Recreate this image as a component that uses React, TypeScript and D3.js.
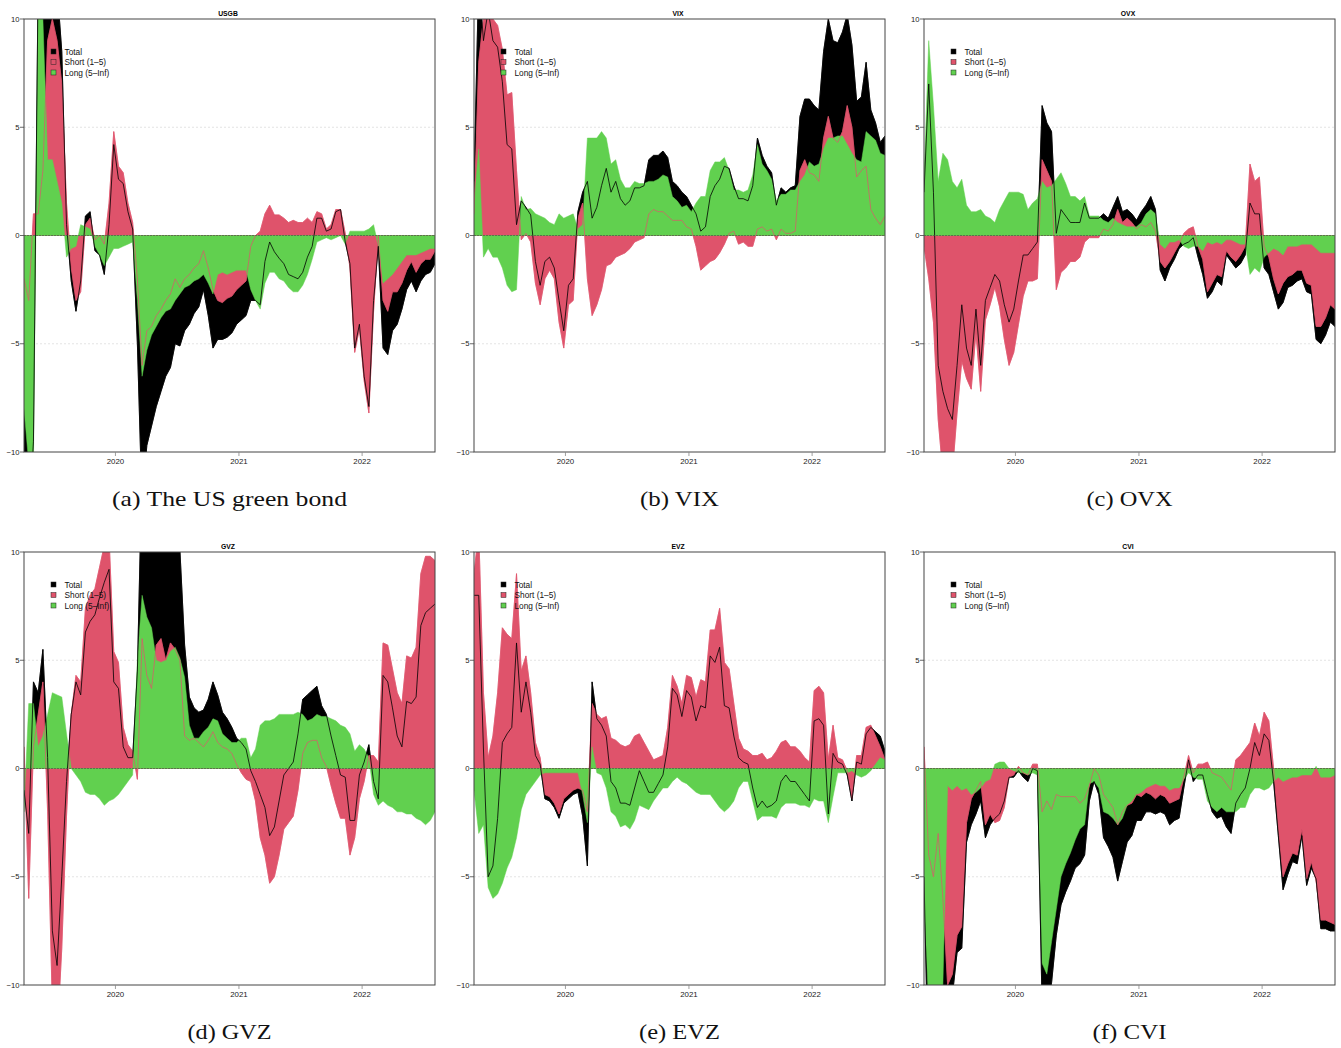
import React from "react";
import * as d3 from "d3";

// Sampling grid: fortnightly observations of the rolling net spillover indices
const START = new Date(2019, 3, 5);
const STEP_DAYS = 14;
const N_OBS = 88;
const DATES: Date[] = d3.range(N_OBS).map((i) => d3.timeDay.offset(START, i * STEP_DAYS));

const Y_TICKS = [-10, -5, 0, 5, 10];
const X_TICKS = [new Date(2020, 0, 1), new Date(2021, 0, 1), new Date(2022, 0, 1)];
const X_TICK_LABELS = ["2020", "2021", "2022"];
const LEGEND_LABELS = ["Total", "Short (1\u20135)", "Long (5\u2013Inf)"];
const COLORS = ["#000000", "#DF536B", "#61D04F"];

// Net spillovers, short-term band (1–5 days)
const USGB_SHORT = [
  -2, -3, 1, 1, 3, 9, 10, 9, 7, 1.5,
  -1.5, -3, -2.6, 0.5, 0.8, -0.2, 0, -0.4, 1.5, 4.8,
  3.2, 2.9, 1.5, 0.6, -2, -6, -4.4, -4.2, -3.7, -3.4,
  -3.0, -2.7, -2.0, -2.4, -2.0, -1.8, -1.5, -1.3, -0.7, -1.5,
  -2.5, -3.0, -3.1, -2.9, -2.8, -2.5, -2.3, -2.1, -0.5, 0,
  0.2, 1.0, 1.4, 0.95, 0.95, 0.8, 0.6, 0.7, 0.6, 0.6,
  0.8, 0.6, 1.1, 1.0, 0.3, 0.5, 1.2, 1.2, 0.1, -1.5,
  -5.4, -4.3, -6.7, -8.2, -3.5, 0, -3, -3.5, -2.6, -2.6,
  -2.2, -1.6, -1.2, -1.7, -1.3, -1.1, -1.1, -0.7,
];
// Net spillovers, long-term band (5 days – Inf)
const USGB_LONG = [
  -8, -10.5, -10.5, 11, 10, 3.5, 3.5, 2.5, 1.5, -1,
  -0.6, -0.5, 0.5, 0.4, 0.3, -0.5, -0.9, -1.4, -1.0, -0.6,
  -0.6, -0.5, -0.4, -0.3, -3, -6.5, -5.3, -4.6, -4.2, -3.8,
  -3.5, -3.4, -3.0, -2.7, -2.4, -2.3, -2.1, -2.0, -1.8, -2.2,
  -2.7, -1.8, -1.7, -1.8, -1.7, -1.6, -1.6, -1.6, -2.5, -3,
  -3.4, -2.2, -1.7, -1.7, -2.0, -2.1, -2.4, -2.6, -2.6, -2.3,
  -1.8, -1.1, -0.3, -0.2, -0.1, -0.2, -0.1, 0, -0.4, 0.2,
  0.2, 0.2, 0.2, 0.3, 0.5, -0.5, -2.2, -2.0, -1.8, -1.5,
  -1.2, -0.9, -0.9, -0.9, -0.8, -0.7, -0.6, -0.6,
];

const VIX_SHORT = [
  1, 8, 10, 11, 10, 9.7, 8.6, 6.5, 6.6, 3,
  -0.2, 0.1, -0.3, -2.2, -3.2, -2.0, -1.6, -2.0, -4, -5.2,
  -3.2, -3, 0.8, 1.5, -2, -3.7, -3.2, -2.5, -1.4, -1.3,
  -1.0, -0.9, -0.8, -0.6, -0.3, -0.2, -0.1, 1.0, 1.2, 1.1,
  1.1, 0.9, 0.7, 0.7, 0.7, 0.4, 0.3, -0.5, -1.6, -1.4,
  -1.2, -1.1, -0.8, -0.4, 0.1, 0.2, -0.4, -0.3, -0.5, -0.5,
  0.3, 0.4, 0.2, 0.3, -0.2, 0.3, 0.1, 0.1, 0.2, 3,
  3.5, 2.9, 2.8, 2.5, 4.5, 5.5, 4.5, 4.3, 4.8, 6,
  5, 2.7, 3.0, 3.2, 1.2, 0.8, 0.5, 0.9,
];
const VIX_LONG = [
  1.5, 4, -1, -0.6, -1, -1, -1.5, -2.3, -2.6, -2.5,
  1.8, 1.2, 1.25, 1.0, 0.9, 0.8, 0.6, 0.5, 1, 0.8,
  0.9, 1, 0.3, 0.5, 4.5, 4.5, 4.5, 4.8, 4.5, 3.3,
  3.5, 2.6, 2.2, 2.2, 2.5, 2.4, 2.4, 2.5, 2.5, 2.6,
  2.8, 2.7, 1.8, 1.6, 1.3, 1.4, 1.1, 1.5, 1.8, 1.8,
  3.0, 3.4, 3.4, 3.6, 3.0, 2.1, 2.1, 2.0, 2.1, 2.8,
  4.2, 3.3, 3.0, 2.6, 1.6, 1.9, 1.9, 2.1, 2.1, 2.5,
  2.8, 3.4, 3.2, 3.3, 4, 4.5, 4.5, 4.6, 4.6, 4.2,
  3.8, 3.5, 3.4, 4.8, 4.6, 4.4, 3.8, 3.7,
];

const OVX_SHORT = [
  -0.5, -2, -4, -8.5, -11, -11.5, -11, -8.2, -5.8, -6.6,
  -7.1, -4.5, -7.2, -3.9, -3.2, -2.4, -3.3, -4.8, -6.0, -5.4,
  -4.1, -2.8, -2.1, -2.1, -2, 3.5, 3, 2.5, -2.5, -1.7,
  -1.5, -1.2, -1.2, -1.0, -0.3, -0.1, -0.1, -0.1, 0.3, 0.2,
  0.5, 1.2, 0.6, 0.8, 0.6, 0.3, 0.5, 0.4, 0.6, 0.2,
  -1.2, -1.5, -1.2, -0.8, -0.4, 0.1, 0.3, 0.4, -0.5, -1.1,
  -2.6, -2.2, -1.8, -1.9, -0.7, -1.0, -1.2, -0.9, -0.5, 3.3,
  2.5, 2.7, -0.5, -1.0, -2.0, -2.7, -2.2, -1.9, -1.8, -1.6,
  -1.6, -2.2, -2.3, -4.2, -4.2, -3.8, -3.2, -3.4,
];
const OVX_LONG = [
  2.5, 9, 6, 2.5, 3.8, 3.5, 2.5, 2.2, 2.6, 1.4,
  1.1, 1.1, 1.2, 0.9, 0.8, 0.6, 1.2, 1.6, 2.0, 2.0,
  2.0, 1.9, 1.2, 1.5, 1.7, 2.5, 2.2, 2.3, 2.6, 2.9,
  2.4, 1.8, 1.8, 1.6, 1.8, 0.9, 0.9, 0.9, 0.7, 0.6,
  0.8, 0.6, 0.5, 0.4, 0.4, 0.4, 0.6, 1.0, 1.2, 1.0,
  -0.4, -0.6, -0.3, -0.3, -0.2, -0.5, -0.6, -0.5, -0.5, -0.7,
  -0.3, -0.4, -0.3, -0.4, -0.2, -0.2, -0.3, -0.4, -0.4, -1.8,
  -1.5, -1.7, -1.0, -0.8, -0.6, -0.7, -0.9, -0.5, -0.5, -0.5,
  -0.4, -0.4, -0.4, -0.6, -0.8, -0.8, -0.8, -0.8,
];

const GVZ_SHORT = [
  1, -6, 1, 2.5, 4, -2, -11, -12.5, -8.3, -2.2,
  2.5, 4.3, 4.0, 7.4, 8.0, 8.3, 9.3, 10.3, 10.7, 5.4,
  4.9, 1.9, 1.1, 0.8, -0.5, 6, 4.3, 3.7, 5.7, 6.0,
  5.0, 5.8, 5.5, 5.0, 1.5, 1.3, 1.4, 1.2, 1.0, 1.3,
  1.7, 1.2, 1.0, 0.9, 0.7, 0.2, -0.2, -0.5, -0.6, -1.5,
  -3.2, -4.0, -5.3, -5.0, -4.0, -2.8, -2.5, -2.2, -1, 0.7,
  1.2, 1.3, 1.3, 0.5, 0.1, -0.8, -1.6, -2.3, -2.3, -4.0,
  -3.2, -1.4, -0.6, 0.6, 0.6, 0.3, 5.8, 5.7, 4.6, 3.5,
  3.0, 5.2, 5.1, 5.6, 9.0, 9.8, 9.8, 9.6,
];
const GVZ_LONG = [
  -2, 3, 3, 1, 1.5, 2.5, 3.5, 3.4, 3.3, 1.6,
  0, -0.3, -0.6, -1.1, -1.2, -1.2, -1.4, -1.7, -1.5, -1.4,
  -1.2, -0.9, -0.6, -0.3, 5, 8, 7, 6.5, 5.0, 4.9,
  5.0, 5.4, 5.6, 5.1, 4.2, 2.0, 1.4, 1.4, 1.7, 1.9,
  2.3, 2.2, 1.6, 1.4, 1.2, 1.2, 1.4, 1.4, 0.5, 0.9,
  2.0, 2.2, 2.2, 2.3, 2.5, 2.5, 2.5, 2.5, 2.6, 2.5,
  2.2, 2.3, 2.5, 2.4, 2.4, 2.3, 2.2, 2.0, 1.9, 1.6,
  0.8, 1.1, 0.9, 0.5, -1.2, -1.7, -1.5, -1.7, -1.8, -2.0,
  -2.0, -2.1, -2.1, -2.3, -2.4, -2.6, -2.4, -2.0,
];

const EVZ_SHORT = [
  9, 11, 3.5, 0.5, 1.5, 3.5, 6.5, 6.2, 6.0, 9.0,
  4.5, 5.2, 3.5, 1.2, 0.5, -1.2, -1.3, -1.6, -2.1, -1.4,
  -1.2, -1.0, -0.9, -1.0, -2, 3.0, 2.5, 2.3, 2.4, 1.4,
  1.3, 1.1, 1.0, 1.1, 1.5, 1.6, 1.2, 0.8, 0.4, 0.5,
  0.6, 1.9, 4.3, 3.8, 3.0, 4.3, 4.2, 3.3, 4.1, 4.0,
  6.4, 6.4, 7.4, 4.9, 4.6, 3.0, 1.4, 0.9, 0.8, 0.6,
  0.6, 0.7, 0.4, 0.5, 0.8, 1.2, 1.3, 1.0, 1.0, 0.8,
  0.5, 0.3, 3.6, 3.8, 3.5, 0.4, 2.0, 0.5, 0.4, -0.1,
  -1.4, 0.6, 0.6, 1.9, 2.0, 1.5, 1.0, 0.4,
];
const EVZ_LONG = [
  -1, -3, -2.6, -5.5, -6, -5.8, -5.3, -4.6, -4.1, -3.2,
  -1.9, -1.2, -0.9, -0.6, -0.3, -0.2, -0.2, -0.2, -0.2, -0.2,
  -0.2, -0.2, -0.2, -1.2, -2.5, 1.0, -0.2, -0.3, -0.9, -2.0,
  -2.2, -2.7, -2.6, -2.8, -2.4, -1.7, -1.8, -1.9, -1.5, -1.2,
  -0.9, -0.9, -0.6, -0.4, -0.6, -0.7, -0.9, -1.1, -1.2, -1.2,
  -1.2, -1.5, -1.8, -2.0, -1.8, -1.5, -0.9, -0.6, -0.6, -1.5,
  -2.4, -2.2, -2.2, -2.2, -2.3, -1.8, -1.6, -1.6, -1.6, -1.7,
  -1.7, -1.8, -1.4, -1.5, -1.5, -2.5, -1.3, -0.2, -0.2, -0.2,
  -0.1, -0.3, -0.4, -0.3, -0.1, 0.2, 0.5, 0.4,
];

const CVI_SHORT = [
  1, -4, -5, -3, -6, -10, -9.5, -7.7, -7.3, -2.5,
  -1.4, -1.0, -0.6, -2.6, -2.1, -2.5, -2.4, -1.8, -0.4, -0.3,
  0.1, -0.2, -0.3, 0.2, 0.2, -2.0, -1.5, -1.9, -1.2, -1.3,
  -1.3, -1.3, -1.3, -1.6, -1.4, -0.8, 0, -0.3, -1.2, -1.5,
  -1.8, -2.6, -2.0, -1.7, -1.6, -1.2, -1.3, -1.1, -1.2, -1.4,
  -1.2, -1.3, -1.6, -1.5, -1.4, -0.4, 0.6, -0.2, 0.2, 0.2,
  0.3, -0.2, -0.3, -0.4, -0.7, -1.0, 0.4, 0.6, 0.9, 1.2,
  2.1, 1.5, 2.6, 2.2, 0, -2.7, -5.0, -4.4, -3.9, -4.0,
  -2.8, -5.1, -4.3, -5.2, -7.0, -7.0, -7.1, -7.2,
];
const CVI_LONG = [
  -6, -11, -11, -10.5, -10, -0.8, -1, -0.8, -1, -0.9,
  -1.2, -1.1, -0.9, -0.6, -0.5, 0.2, 0.3, 0.3, 0, -0.1,
  -0.2, -0.2, -0.3, -0.2, -0.3, -9, -9.5, -8, -6.5, -5.0,
  -4.4, -3.9, -3.3, -2.8, -2.6, -0.7, -0.6, -0.9, -2, -2.1,
  -2.3, -2.6, -2.3, -1.7, -1.5, -1.2, -1.1, -0.9, -0.8, -0.7,
  -0.8, -0.8, -1.0, -0.9, -0.9, -0.5, -0.2, -0.4, -0.5, -0.5,
  -1.5, -1.8, -2.0, -1.8, -2.0, -2.0, -2.0, -1.8, -1.8, -1.2,
  -0.9, -0.9, -1.0, -0.9, -0.6, -0.4, -0.6, -0.5, -0.4, -0.4,
  -0.3, -0.3, -0.3, 0.1, -0.4, -0.4, -0.4, -0.3,
];

const TITLES = ["USGB", "VIX", "OVX", "GVZ", "EVZ", "CVI"];
const CAPTIONS = ["(a) The US green bond", "(b) VIX", "(c) OVX", "(d) GVZ", "(e) EVZ", "(f) CVI"];
const CAPTION_WIDTHS = [235, 79, 86, 84, 81, 74];
const SHORT_SERIES = [USGB_SHORT, VIX_SHORT, OVX_SHORT, GVZ_SHORT, EVZ_SHORT, CVI_SHORT];
const LONG_SERIES = [USGB_LONG, VIX_LONG, OVX_LONG, GVZ_LONG, EVZ_LONG, CVI_LONG];

// Layout
const WIDTH = 1341;
const HEIGHT = 1048;
const PLOT_W = 411;
const PLOT_H = 433;
const LEFTS = [24, 474, 924];
const TOPS = [19, 552];
const SANS = "'Liberation Sans', Arial, Helvetica, sans-serif";
const SERIF = "'Liberation Serif', 'DejaVu Serif', serif";

function Panel({ idx }: { idx: number }) {
  const left = LEFTS[idx % 3];
  const top = TOPS[Math.floor(idx / 3)];
  const short = SHORT_SERIES[idx];
  const long = LONG_SERIES[idx];
  const total = short.map((s, i) => s + long[i]);

  const x = d3.scaleTime().domain([DATES[0], DATES[N_OBS - 1]]).range([left, left + PLOT_W]);
  const y = d3.scaleLinear().domain([-10, 10]).range([top + PLOT_H, top]);

  const area = d3
    .area<number>()
    .x((_, i) => x(DATES[i]))
    .y0(y(0))
    .y1((v) => y(v));
  const line = d3
    .line<number>()
    .x((_, i) => x(DATES[i]))
    .y((v) => y(v));

  const clipId = `plot-clip-${idx}`;
  const bottom = top + PLOT_H;
  const cx = left + PLOT_W / 2;

  return (
    <g>
      <defs>
        <clipPath id={clipId}>
          <rect x={left} y={top} width={PLOT_W} height={PLOT_H} />
        </clipPath>
      </defs>

      {/* horizontal reference grid */}
      {Y_TICKS.filter((t) => Math.abs(t) !== 10 && t !== 0).map((t) => (
        <line
          key={`g${t}`}
          x1={left}
          x2={left + PLOT_W}
          y1={y(t)}
          y2={y(t)}
          stroke="#d8d8d8"
          strokeWidth={0.7}
          strokeDasharray="2,2"
        />
      ))}

      <g clipPath={`url(#${clipId})`}>
        <path d={area(total) || ""} fill={COLORS[0]} stroke={COLORS[0]} strokeWidth={0.6} />
        <path d={area(short) || ""} fill={COLORS[1]} stroke={COLORS[1]} strokeWidth={0.5} />
        <path d={area(long) || ""} fill={COLORS[2]} stroke={COLORS[2]} strokeWidth={0.5} />
        <path d={line(short) || ""} fill="none" stroke={COLORS[1]} strokeWidth={0.7} />
        <path d={line(total) || ""} fill="none" stroke={COLORS[0]} strokeWidth={0.8} />
        <line
          x1={left}
          x2={left + PLOT_W}
          y1={y(0)}
          y2={y(0)}
          stroke="#4a4a4a"
          strokeOpacity={0.75}
          strokeWidth={0.8}
          strokeDasharray="2,1"
        />
      </g>

      {/* frame */}
      <rect x={left} y={top} width={PLOT_W} height={PLOT_H} fill="none" stroke="#444" strokeWidth={1} />

      {/* y axis */}
      {Y_TICKS.map((t) => (
        <g key={`y${t}`}>
          <line x1={left - 4} x2={left} y1={y(t)} y2={y(t)} stroke="#444" strokeWidth={0.8} />
          <text
            x={left - 4.5}
            y={y(t) + 2.7}
            textAnchor="end"
            fontFamily={SANS}
            fontSize={7.7}
            fill="#222"
          >
            {t < 0 ? `\u2212${Math.abs(t)}` : `${t}`}
          </text>
        </g>
      ))}

      {/* x axis */}
      {X_TICKS.map((d, i) => (
        <g key={`x${i}`}>
          <line x1={x(d)} x2={x(d)} y1={bottom} y2={bottom + 4} stroke="#888" strokeWidth={0.8} />
          <text
            x={x(d)}
            y={bottom + 11.5}
            textAnchor="middle"
            fontFamily={SANS}
            fontSize={7.9}
            fill="#222"
          >
            {X_TICK_LABELS[i]}
          </text>
        </g>
      ))}

      {/* title */}
      <text
        x={cx - 1.5}
        y={top - 3.4}
        textAnchor="middle"
        fontFamily={SANS}
        fontWeight="bold"
        fontSize={6.8}
        fill="#000"
      >
        {TITLES[idx]}
      </text>

      {/* legend */}
      {LEGEND_LABELS.map((lab, i) => (
        <g key={lab}>
          <rect
            x={left + 27}
            y={top + 30 + i * 10.5}
            width={5}
            height={5}
            fill={COLORS[i]}
            stroke="#222"
            strokeWidth={0.5}
          />
          <text x={left + 40.5} y={top + 35.6 + i * 10.5} fontFamily={SANS} fontSize={8.3} fill="#111">
            {lab}
          </text>
        </g>
      ))}

      {/* caption */}
      <text
        x={cx}
        y={bottom + 54}
        textAnchor="middle"
        fontFamily={SERIF}
        fontSize={21}
        fill="#111"
        textLength={CAPTION_WIDTHS[idx]}
        lengthAdjust="spacingAndGlyphs"
      >
        {CAPTIONS[idx]}
      </text>
    </g>
  );
}

export default function App() {
  return (
    <svg
      width={WIDTH}
      height={HEIGHT}
      viewBox={`0 0 ${WIDTH} ${HEIGHT}`}
      style={{ position: "absolute", left: 0, top: 0, background: "#fff" }}
    >
      <rect x={0} y={0} width={WIDTH} height={HEIGHT} fill="#fff" />
      {TITLES.map((_, i) => (
        <Panel key={i} idx={i} />
      ))}
    </svg>
  );
}
